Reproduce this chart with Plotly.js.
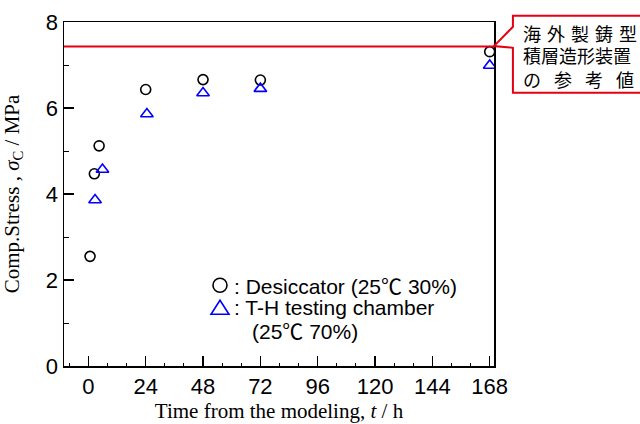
<!DOCTYPE html>
<html>
<head>
<meta charset="utf-8">
<script src="https://cdn.plot.ly/plotly-3.0.1.min.js"></script>
<style>html,body{margin:0;padding:0;background:#fff;}#chart{width:640px;height:424px;}</style>
</head>
<body>
<div id="chart"></div>
<script>
// Desiccator (25℃ 30%)
var desiccatorTime = [0.7, 2.5, 4.5, 24, 48, 72, 168];
var desiccatorStress = [2.55, 4.47, 5.12, 6.43, 6.66, 6.65, 7.31];
// T-H testing chamber (25℃ 70%)
var chamberTime = [2.8, 5.9, 24.5, 48, 72, 168];
var chamberStress = [3.86, 4.57, 5.86, 6.35, 6.45, 6.99];
// reference value of overseas casting-mold additive manufacturing machine
var referenceStress = 7.43;
var xTickVals = [0, 24, 48, 72, 96, 120, 144, 168];
var yTickVals = [0, 2, 4, 6, 8];
var legendLabels = [': Desiccator (25<span style="font-family:Noto Sans CJK JP">℃</span> 30%)',
                    ': T-H testing chamber',
                    '(25<span style="font-family:Noto Sans CJK JP">℃</span> 70%)'];
var noteLines = ['海\u2004外\u2004製\u2004鋳\u2004型', '積層造形装置', 'の\u2002 参\u2002 考\u2002 値'];

var traces = [
  {x: desiccatorTime, y: desiccatorStress, type: 'scatter', mode: 'markers',
   name: 'Desiccator',
   marker: {symbol: 'circle-open', size: 10, color: '#000', line: {width: 1.6, color: '#000'}}},
  {x: chamberTime, y: chamberStress, type: 'scatter', mode: 'markers',
   name: 'T-H testing chamber',
   marker: {symbol: 'triangle-up-open', size: 11, color: '#0000ff', line: {width: 1.6, color: '#0000ff'}}}
];

var red = 'rgb(230,0,18)';
var legFont = {family: 'Arial, Liberation Sans', size: 21, color: '#000'};
var cjkFont = {family: 'Noto Sans CJK JP', size: 18, color: '#000'};
var layout = {
  width: 640, height: 424,
  margin: {l: 64, r: 146, t: 22, b: 58},
  paper_bgcolor: '#fff', plot_bgcolor: '#fff',
  showlegend: false,
  xaxis: {range: [-10.2, 169.8], tickvals: xTickVals, ticks: 'inside', ticklen: 10, tickwidth: 1.3,
          tickcolor: '#000', showline: true, linecolor: '#000', linewidth: 1.5, mirror: true,
          showgrid: false, zeroline: false,
          minor: {dtick: 8, tick0: 0, ticks: 'inside', ticklen: 3, tickcolor: '#000', tickwidth: 1, showgrid: false},
          tickfont: {family: 'Arial, Liberation Sans', size: 22, color: '#000'},
          title: {text: 'Time from the modeling, <i>t</i> / h', standoff: 4,
                  font: {family: 'Times New Roman, Liberation Serif', size: 21, color: '#000'}}},
  yaxis: {range: [0, 8], tickvals: yTickVals, ticks: 'inside', ticklen: 10, tickwidth: 1.3,
          tickcolor: '#000', showline: true, linecolor: '#000', linewidth: 1.5, mirror: true,
          showgrid: false, zeroline: false,
          minor: {dtick: 1, tick0: 0, ticks: 'inside', ticklen: 5, tickcolor: '#000', tickwidth: 1, showgrid: false},
          tickfont: {family: 'Arial, Liberation Sans', size: 22, color: '#000'},
          title: {text: 'Comp.Stress , <i>σ</i><sub>C</sub> / MPa',
                  font: {family: 'Times New Roman, Liberation Serif', size: 21, color: '#000'}}},
  shapes: [
    {type: 'line', xref: 'paper', x0: 0, x1: 1, yref: 'y', y0: referenceStress, y1: referenceStress,
     line: {color: red, width: 2}},
    {type: 'path', xref: 'paper', yref: 'paper',
     path: 'M 1.044 0.925 L 1.044 0.794 L 1.36 0.794 L 1.36 1.018 L 1.044 1.018 L 1.044 0.986 L 1.0 0.930 Z',
     fillcolor: '#fff', line: {color: red, width: 2}},
    {type: 'circle', xref: 'paper', yref: 'paper', x0: 0.3465, x1: 0.379, y0: 0.2144, y1: 0.2552,
     line: {color: '#000', width: 1.6}},
    {type: 'path', xref: 'paper', yref: 'paper',
     path: 'M 0.3628 0.1912 L 0.3419 0.1504 L 0.3837 0.1504 Z',
     line: {color: '#0000ff', width: 1.6}}
  ],
  annotations: [
    {xref: 'paper', yref: 'paper', x: 1.062, y: 0.969, xanchor: 'left', yanchor: 'middle', showarrow: false,
     text: noteLines[0], font: cjkFont},
    {xref: 'paper', yref: 'paper', x: 1.062, y: 0.904, xanchor: 'left', yanchor: 'middle', showarrow: false,
     text: noteLines[1], font: cjkFont},
    {xref: 'paper', yref: 'paper', x: 1.062, y: 0.834, xanchor: 'left', yanchor: 'middle', showarrow: false,
     text: noteLines[2], font: cjkFont},
    {xref: 'paper', yref: 'paper', x: 0.39, y: 0.2348, xanchor: 'left', yanchor: 'middle', showarrow: false,
     text: legendLabels[0], font: legFont},
    {xref: 'paper', yref: 'paper', x: 0.39, y: 0.1708, xanchor: 'left', yanchor: 'middle', showarrow: false,
     text: legendLabels[1], font: legFont},
    {xref: 'paper', yref: 'paper', x: 0.432, y: 0.1039, xanchor: 'left', yanchor: 'middle', showarrow: false,
     text: legendLabels[2], font: legFont}
  ]
};

Plotly.newPlot('chart', traces, layout, {displayModeBar: false, staticPlot: true});
</script>
</body>
</html>
